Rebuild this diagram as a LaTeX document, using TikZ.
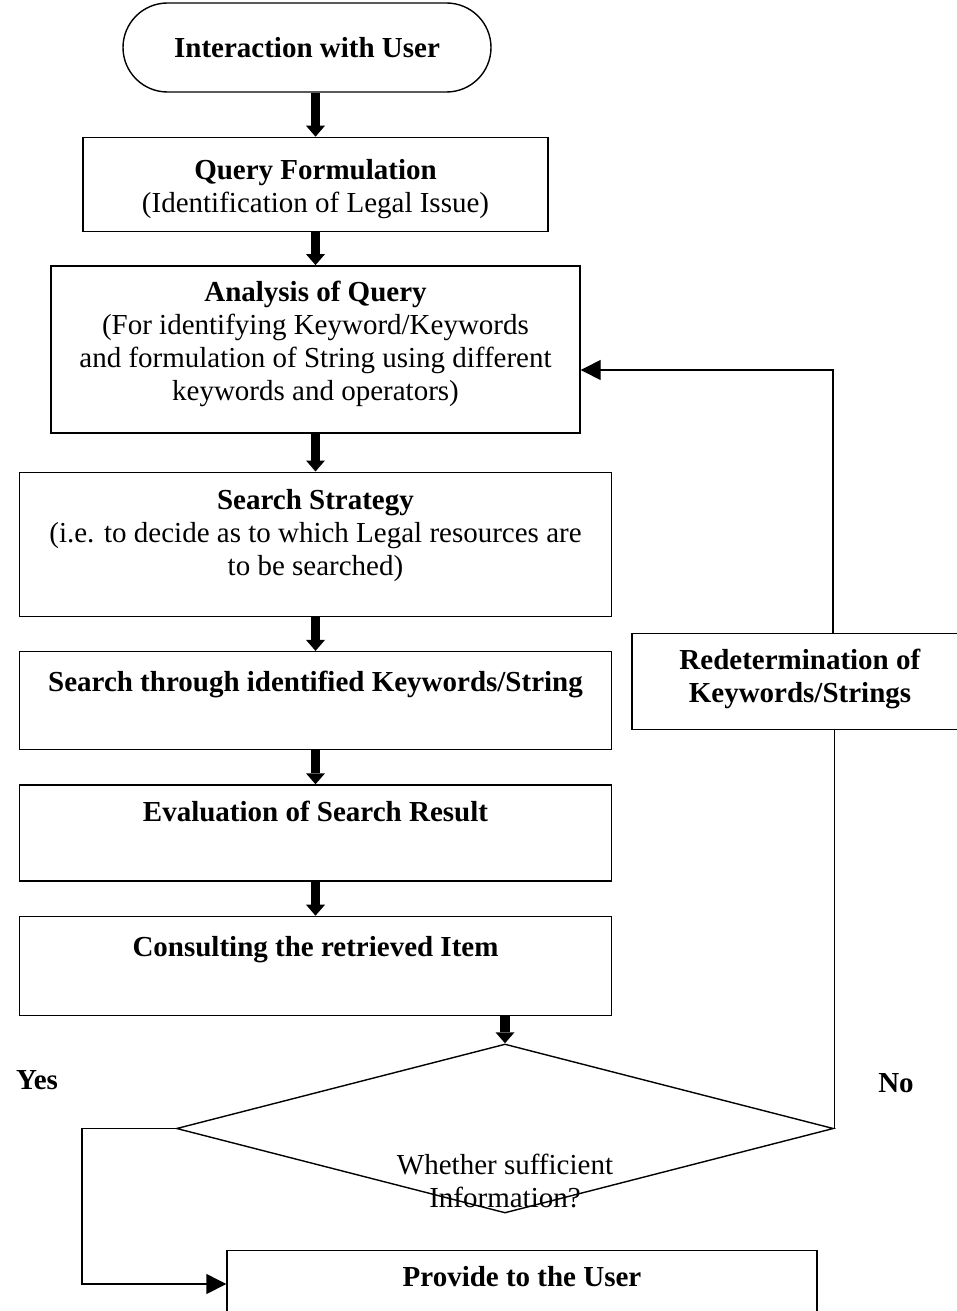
\documentclass[tikz,border=0pt]{standalone}
\usepackage{fontspec}
\setmainfont{Liberation Serif}
\usetikzlibrary{arrows.meta,positioning,shapes.geometric,shapes.misc}

\begin{document}
\begin{tikzpicture}[
  x=0.5pt, y=-0.5pt,
  node distance=17pt,
  every node/.style={font=\fontsize{14.5pt}{16.5pt}\selectfont},
  box/.style={draw, line width=0.7pt, align=center, inner xsep=4pt, inner ysep=0pt},
  fat/.style={line width=4.75pt, -{Triangle[length=5.5pt, width=9.5pt, line width=0pt]}},
  thin/.style={line width=0.7pt, -{Triangle[length=10pt, width=10pt]}}
]
\clip (0,0) rectangle (957,1311);

\node[box, rounded rectangle, minimum width=192pt, minimum height=44.5pt] (user) at (307,47.5) {\textbf{Interaction with User}};

\node[box, minimum width=232.5pt, text height=37.5pt, text depth=9.5pt, below=22pt of user, xshift=4.25pt] (query) {\textbf{Query Formulation}\\
(Identification of Legal Issue)};

\node[box, minimum width=264.5pt, text height=67.5pt, text depth=16pt, below=16.5pt of query] (analysis) {\textbf{Analysis of Query}\\
(For identifying Keyword/Keywords\\
and formulation of String using different\\
keywords and operators)};

\node[box, minimum width=296pt, text height=51.5pt, text depth=20.5pt, below=19pt of analysis] (strategy) {\textbf{Search Strategy}\\
(i.e. to decide as to which Legal resources are\\
to be searched)};

\node[box, minimum width=296pt, text height=20pt, text depth=29pt, below=of strategy] (search) {\textbf{Search through identified Keywords/String}};

\node[box, minimum width=296pt, text height=18pt, text depth=30pt, below=of search] (evaluation) {\textbf{Evaluation of Search Result}};

\node[box, minimum width=296pt, text height=20pt, text depth=29.5pt, below=of evaluation] (consult) {\textbf{Consulting the retrieved Item}};

\node[draw, diamond, line width=0.7pt, inner sep=0pt, minimum width=328.5pt, minimum height=84.5pt] (check) at (505,1128.5) {};
\node[align=center] (checktxt) at (505,1181) {Whether sufficient\\Information?};

\node[box, anchor=north, minimum width=168pt, text height=34.5pt, text depth=13.5pt] (redet) at (800,633) {\textbf{Redetermination of}\\
\textbf{Keywords/Strings}};

\node[box, anchor=north, minimum width=295pt, text height=18pt, text depth=30pt] (provide) at (522,1250) {\textbf{Provide to the User}};

\node (yes) at (37,1080) {\textbf{Yes}};
\node (no) at (896,1083) {\textbf{No}};

% main flow
\draw[fat] (user.south -| query.north) -- (query.north);
\draw[fat] (query.south) -- (analysis.north);
\draw[fat] (analysis.south) -- (strategy.north);
\draw[fat] (strategy.south) -- (search.north);
\draw[fat] (search.south) -- (evaluation.north);
\draw[fat] (evaluation.south) -- (consult.north);
\draw[fat] (consult.south -| check.north) -- (check.north);

% yes branch
\coordinate (yesturn) at (82,1284);
\draw[thin] (check.west) -| (yesturn) -- (provide.west |- yesturn);

% no branch
\coordinate (noturn) at (833,370);
\draw[line width=0.7pt] (check.east) -- (check.east |- redet.south);
\draw[thin] (noturn |- redet.north) -- (noturn) -- (analysis.east |- noturn);
\end{tikzpicture}
\end{document}
